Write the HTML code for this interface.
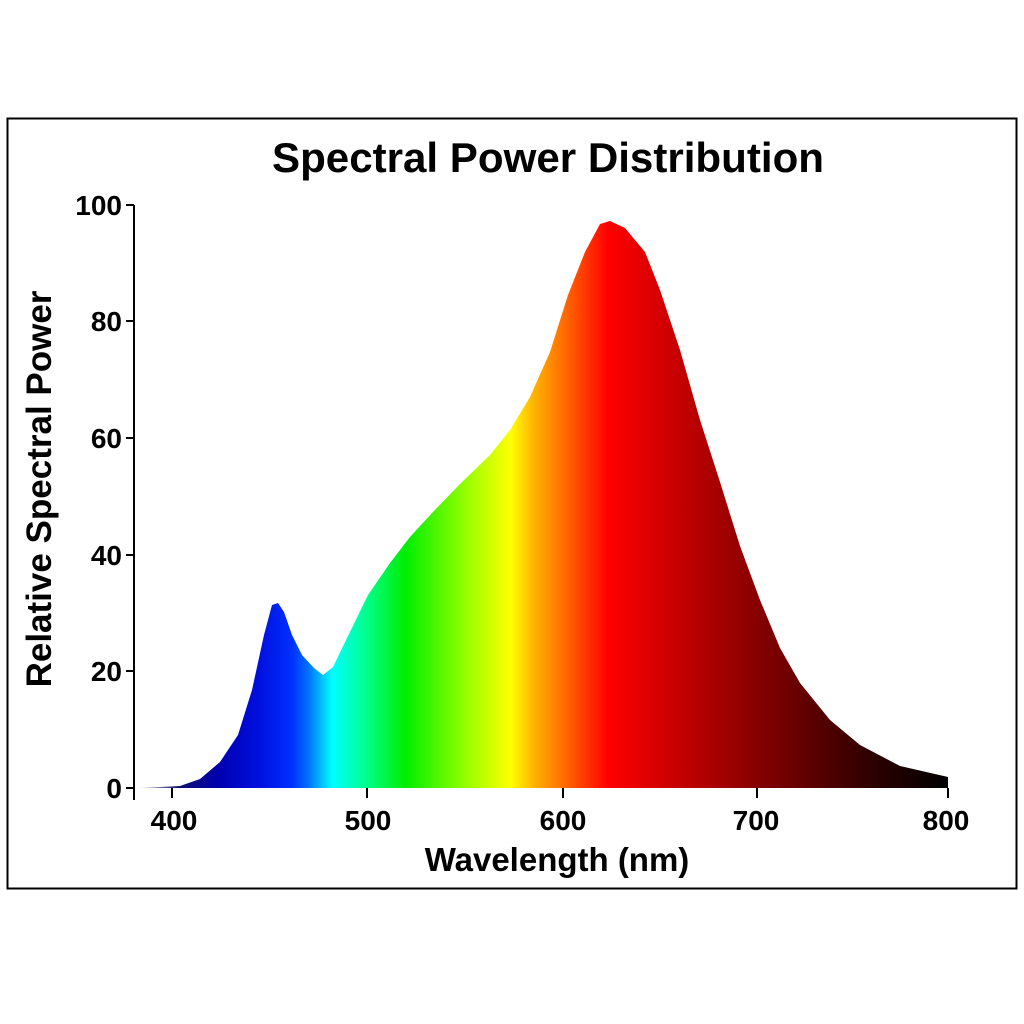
<!DOCTYPE html>
<html><head><style>body{margin:0;background:#fff}svg{display:block}</style></head><body>
<svg width="1024" height="1024" xmlns="http://www.w3.org/2000/svg" font-family="Liberation Sans, sans-serif" font-weight="bold">
<defs>
<linearGradient id="g" gradientUnits="userSpaceOnUse" x1="138" y1="0" x2="948" y2="0">
<stop offset="0" stop-color="#e0e0e8"/>
<stop offset="0.05" stop-color="#101070"/>
<stop offset="0.10" stop-color="#0000b0"/>
<stop offset="0.15" stop-color="#0010e0"/>
<stop offset="0.19" stop-color="#0030ff"/>
<stop offset="0.21" stop-color="#0070ff"/>
<stop offset="0.24" stop-color="#00ffff"/>
<stop offset="0.28" stop-color="#00ff90"/>
<stop offset="0.33" stop-color="#00ee00"/>
<stop offset="0.41" stop-color="#a0ff00"/>
<stop offset="0.46" stop-color="#ffff00"/>
<stop offset="0.49" stop-color="#ffb000"/>
<stop offset="0.54" stop-color="#ff5000"/>
<stop offset="0.58" stop-color="#ff0000"/>
<stop offset="0.70" stop-color="#b00000"/>
<stop offset="0.80" stop-color="#700000"/>
<stop offset="0.90" stop-color="#300000"/>
<stop offset="1" stop-color="#000000"/>
</linearGradient>
</defs>
<rect x="7.5" y="118.5" width="1009" height="770" fill="none" stroke="#000" stroke-width="2"/>
<text x="548" y="172" font-size="42" text-anchor="middle" textLength="552" lengthAdjust="spacingAndGlyphs">Spectral Power Distribution</text>
<path fill="url(#g)" d="M138,788 L180,786 L200,779 L220,762 L238,735 L252,690 L264,635 L272,605 L278,603 L284,612 L292,635 L302,655 L314,668 L323,675 L333,667 L348,636 L368,595 L390,563 L410,537 L432,513 L460,484 L490,455 L510,430 L530,397 L550,352 L568,295 L585,252 L600,224 L610,221 L625,228 L645,252 L660,290 L680,350 L700,420 L720,482 L740,546 L760,600 L780,648 L800,683 L830,720 L860,745 L900,766 L948,777 L948,788 Z"/>
<g stroke="#000" stroke-width="2">
<line x1="134" y1="205" x2="134" y2="800"/>
<line x1="126" y1="205" x2="134" y2="205"/>
<line x1="126" y1="321" x2="134" y2="321"/>
<line x1="126" y1="438" x2="134" y2="438"/>
<line x1="126" y1="555" x2="134" y2="555"/>
<line x1="126" y1="671" x2="134" y2="671"/>
<line x1="126" y1="788" x2="134" y2="788"/>
<line x1="172" y1="788" x2="172" y2="798"/>
<line x1="367" y1="788" x2="367" y2="798"/>
<line x1="563" y1="788" x2="563" y2="798"/>
<line x1="757" y1="788" x2="757" y2="798"/>
<line x1="948" y1="788" x2="948" y2="798"/>
</g>
<g font-size="28" text-anchor="end">
<text x="122" y="215">100</text>
<text x="122" y="331">80</text>
<text x="122" y="448">60</text>
<text x="122" y="565">40</text>
<text x="122" y="681">20</text>
<text x="122" y="798">0</text>
</g>
<g font-size="28" text-anchor="middle">
<text x="174" y="830">400</text>
<text x="368" y="830">500</text>
<text x="563" y="830">600</text>
<text x="756" y="830">700</text>
<text x="946" y="830">800</text>
</g>
<text x="557" y="871" font-size="33" text-anchor="middle">Wavelength (nm)</text>
<text transform="translate(51,489) rotate(-90)" font-size="35" text-anchor="middle">Relative Spectral Power</text>
</svg>
</body></html>
